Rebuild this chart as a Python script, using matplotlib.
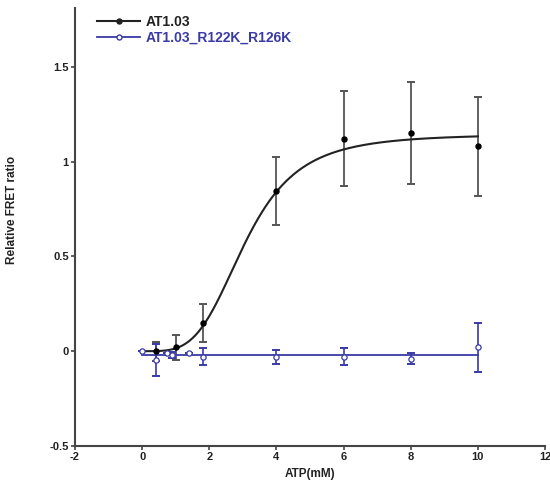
import numpy as np
import matplotlib
matplotlib.use("Agg")
import matplotlib.pyplot as plt

plt.rcParams['font.family'] = ['Liberation Sans', 'DejaVu Sans']
plt.rcParams['font.weight'] = 'bold'
plt.rcParams['axes.unicode_minus'] = False

# AT1.03 data
at_x = [0.4, 1.0, 1.8, 4.0, 6.0, 8.0, 10.0]
at_y = [0.0, 0.02, 0.15, 0.845, 1.12, 1.15, 1.08]
at_err = [0.05, 0.065, 0.10, 0.18, 0.25, 0.27, 0.26]
# Hill fit parameters for AT1.03
fit_top = 1.145
fit_k = 3.07
fit_n = 3.84
fit_x_range = [0.0, 10.0]

# AT1.03_R122K_R126K data
mut_x = [0.0, 0.4, 0.75, 0.9, 1.4, 1.8, 4.0, 6.0, 8.0, 10.0]
mut_y = [0.0, -0.045, -0.01, -0.02, -0.01, -0.03, -0.03, -0.03, -0.04, 0.02]
mut_err = [0.0, 0.085, 0.0, 0.015, 0.0, 0.045, 0.037, 0.045, 0.03, 0.128]
mut_fit = -0.02

labels = ["AT1.03", "AT1.03_R122K_R126K"]
xticks = [-2, 0, 2, 4, 6, 8, 10, 12]
yticks = [-0.5, 0, 0.5, 1, 1.5]
yticklabels = ["-0.5", "0", "0.5", "1", "1.5"]

black = '#222222'
ebar_black = '#555555'
blue = '#3a3aa8'

fig = plt.figure(figsize=(5.5, 4.95), dpi=100)
ax = fig.add_axes([75/550, 1-446/495, 470/550, 438/495])

xf = np.linspace(fit_x_range[0], fit_x_range[1], 300)
yf = fit_top * xf**fit_n / (fit_k**fit_n + xf**fit_n)
ax.plot(xf, yf, color=black, lw=1.5, zorder=3)
ax.errorbar(at_x, at_y, yerr=at_err, fmt='none', ecolor=ebar_black, elinewidth=1.3,
            capsize=2.6, capthick=1.4, zorder=2)
ax.plot(at_x, at_y, 'o', color='black', ms=3.6, zorder=4)

ax.plot(fit_x_range, [mut_fit, mut_fit], color=blue, lw=1.3, zorder=3)
ax.errorbar(mut_x, mut_y, yerr=mut_err, fmt='none', ecolor=blue, elinewidth=1.2,
            capsize=2.6, capthick=1.4, zorder=2)
ax.plot(mut_x, mut_y, 'o', mfc='white', mec=blue, mew=0.9, ms=3.8, zorder=4)

ax.set_xlim(-2, 12)
ax.set_ylim(-0.5, 1.81)
ax.set_xticks(xticks)
ax.set_yticks(yticks)
ax.set_yticklabels(yticklabels)
for s in ['top', 'right']:
    ax.spines[s].set_visible(False)
for s in ['left', 'bottom']:
    ax.spines[s].set_color('#444444')
    ax.spines[s].set_linewidth(1.5)
ax.tick_params(axis='both', direction='out', length=3, width=1.2, color='#444444',
               labelsize=8, pad=1.5, labelcolor='#222222')
for t in ax.get_xticklabels() + ax.get_yticklabels():
    t.set_fontweight('bold')

ax.set_xlabel("ATP(mM)", fontsize=8.5, fontweight='bold', color='#222222')
ax.xaxis.set_label_coords(0.5, (446 - 468) / 438)
ax.set_ylabel("Relative FRET ratio", fontsize=8.5, fontweight='bold', color='#222222')
ax.yaxis.set_label_coords(-0.121, 0.54)

h1, = ax.plot([], [], '-o', color=black, ms=3.6, lw=1.5)
h2, = ax.plot([], [], '-o', color=blue, mfc='white', mec=blue, ms=3.6, lw=1.3)
leg = ax.legend([h1, h2], labels, loc='upper left', bbox_to_anchor=(97/550, 1-15/495),
                bbox_transform=fig.transFigure, frameon=False,
                handlelength=3.1, handletextpad=0.4, labelspacing=0.1, borderpad=0,
                borderaxespad=0, prop={'weight': 'bold', 'size': 10})
leg.get_texts()[0].set_color('#222222')
leg.get_texts()[1].set_color(blue)

fig.savefig("out.png", dpi=100)
